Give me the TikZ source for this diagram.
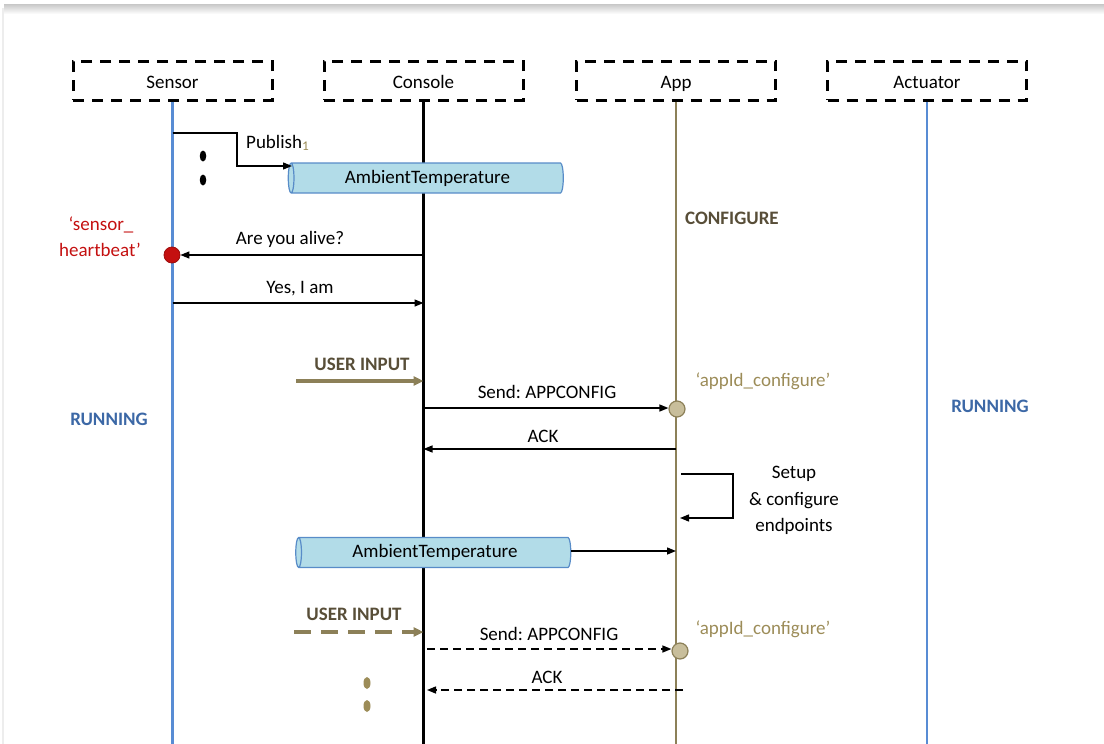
\documentclass[tikz,border=0pt]{standalone}
\usepackage{fontspec}
\setmainfont{Carlito}
\usetikzlibrary{arrows.meta,shapes.geometric}

\definecolor{lifeblue}{RGB}{88,140,212}
\definecolor{appolive}{RGB}{140,128,88}
\definecolor{cylfill}{RGB}{178,220,232}
\definecolor{cylline}{RGB}{88,140,200}
\definecolor{heartred}{RGB}{196,16,16}
\definecolor{notebrown}{RGB}{88,78,56}
\definecolor{runblue}{RGB}{60,104,166}
\definecolor{idolive}{RGB}{156,140,88}
\definecolor{dotolive}{RGB}{200,190,155}

\begin{document}
\frenchspacing
\begin{tikzpicture}[x=1pt,y=-1pt,
  every node/.style={font=\fontsize{19}{23}\selectfont, inner sep=0pt},
  header/.style={draw=black, line width=3pt, dash pattern=on 11pt off 8pt,
    minimum width=199pt, minimum height=39pt, text height=15pt, text depth=0pt},
  lifeline/.style={line width=2.5pt},
  msg/.style={line width=1.4pt, -{Triangle[length=9pt,width=7pt]}},
  dmsg/.style={msg, dash pattern=on 8pt off 5pt},
  userin/.style={line width=3.5pt, draw=appolive, -{Triangle[length=10pt,width=9pt]}},
  duserin/.style={userin, dash pattern=on 17pt off 10pt},
  topic/.style={cylinder, shape border rotate=180, shape aspect=0.35,
    draw=cylline, line width=1.2pt, fill=cylfill,
    minimum width=30pt, minimum height=275pt},
  lbl/.style={anchor=base},
  note/.style={anchor=base, font=\fontsize{19}{23}\selectfont\bfseries, text=notebrown},
  running/.style={anchor=base, font=\fontsize{19}{23}\selectfont\bfseries, text=runblue},
  appid/.style={anchor=base, text=idolive},
  heart/.style={anchor=base, text=heartred},
  blackdot/.style={ellipse, fill=black, minimum width=6.5pt, minimum height=11pt},
  olivedot/.style={ellipse, fill=idolive, minimum width=7pt, minimum height=12pt},
  appdot/.style={circle, fill=dotolive, draw=appolive, line width=1.2pt, minimum size=16pt},
]
\useasboundingbox (0,0) rectangle (1104,744);

% page edge shadow
\shade[top color=black!22, bottom color=white] (4,4) rectangle (1104,14);
\draw[black!7, line width=1.5pt] (3,8) -- (3,744);

% participants
\node[header] (sensor) at (172.5,80.5) {Sensor};
\node[header] (console) at (423.5,80.5) {Console};
\node[header] (app) at (676,80.5) {App};
\node[header] (actuator) at (927,80.5) {Actuator};

\coordinate (sensor-end) at (172.5,744);
\coordinate (console-end) at (423.5,744);
\coordinate (app-end) at (676,744);
\coordinate (actuator-end) at (927,744);

\draw[lifeline, lifeblue] (sensor.south) -- (sensor-end);
\draw[lifeline, black] (console.south) -- (console-end);
\draw[lifeline, appolive] (app.south) -- (app-end);
\draw[lifeline, lifeblue] (actuator.south) -- (actuator-end);

% publishing the topic
\node[topic] (topic1) at (427.5,178) {AmbientTemperature};
\coordinate (pub-start) at (172.5,133);
\coordinate (pub-end) at (292,166);
\draw[msg] (pub-start) -- ++(64.5,0) |- (pub-end);
\node[anchor=base west] (pub-lbl) at (246,148) {Publish\textsubscript{\color{idolive}1}};
\node[blackdot] (pub-dot1) at (203,156) {};
\node[blackdot] (pub-dot2) at (203,180) {};

\node[note, anchor=base west] (configure) at (685,224) {CONFIGURE};

% heartbeat
\node[circle, fill=heartred, draw=heartred!80!black, line width=0.8pt, minimum size=16pt] (hb) at (172,255) {};
\node[heart] (hb-lbl1) at (101,230) {‘sensor\_};
\node[heart] (hb-lbl2) at (100,256) {heartbeat’};
\coordinate (c-alive) at (423.5,255);
\draw[msg] (c-alive) -- (hb.east);
\node[lbl] (alive-lbl) at (290,244) {Are you alive?};

\coordinate (s-yes) at (172.5,303);
\coordinate (c-yes) at (423.5,303);
\draw[msg] (s-yes) -- (c-yes);
\node[lbl] (yes-lbl) at (300,293) {Yes, I am};

\node[running] (run-left) at (109,425) {RUNNING};
\node[running] (run-right) at (990,412) {RUNNING};

% first configuration
\node[note] (ui1) at (362,370) {USER INPUT};
\coordinate (ui1-start) at (296,381);
\coordinate (c-ui1) at (423.5,381);
\draw[userin] (ui1-start) -- (c-ui1);

\node[appdot] (cfg1) at (677,409) {};
\coordinate (c-send1) at (423.5,408);
\draw[msg] (c-send1) -- (cfg1.west |- c-send1);
\node[lbl] (send1-lbl) at (547,398) {Send: APPCONFIG};
\node[appid] (id1) at (763,386) {‘appId\_configure’};

\coordinate (a-ack1) at (676,449);
\coordinate (c-ack1) at (423.5,449);
\draw[msg] (a-ack1) -- (c-ack1);
\node[lbl] (ack1-lbl) at (543,442) {ACK};

\coordinate (a-loop1) at (681,474);
\coordinate (a-loop2) at (680,518);
\draw[msg] (a-loop1) -- ++(52,0) |- (a-loop2);
\node[lbl] (setup1) at (794,478) {Setup};
\node[lbl] (setup2) at (794,505) {\& configure};
\node[lbl] (setup3) at (794,531) {endpoints};

\node[topic] (topic2) at (435,552.5) {AmbientTemperature};
\coordinate (a-topic) at (676,551);
\draw[msg] (topic2.east |- a-topic) -- (a-topic);

% repeated configuration
\node[note] (ui2) at (354,620) {USER INPUT};
\coordinate (ui2-start) at (294,632);
\coordinate (c-ui2) at (423.5,632);
\draw[duserin] (ui2-start) -- (c-ui2);

\node[appdot] (cfg2) at (680,651) {};
\coordinate (c-send2) at (427,649);
\draw[dmsg] (c-send2) -- (cfg2.west |- c-send2);
\node[lbl] (send2-lbl) at (549,640) {Send: APPCONFIG};
\node[appid] (id2) at (763,634) {‘appId\_configure’};

\coordinate (a-ack2) at (683,690);
\coordinate (c-ack2) at (427,690);
\draw[dmsg] (a-ack2) -- (c-ack2);
\node[lbl] (ack2-lbl) at (547,683) {ACK};

\node[olivedot] (more-dot1) at (367,683) {};
\node[olivedot] (more-dot2) at (367,706) {};
\end{tikzpicture}
\end{document}
